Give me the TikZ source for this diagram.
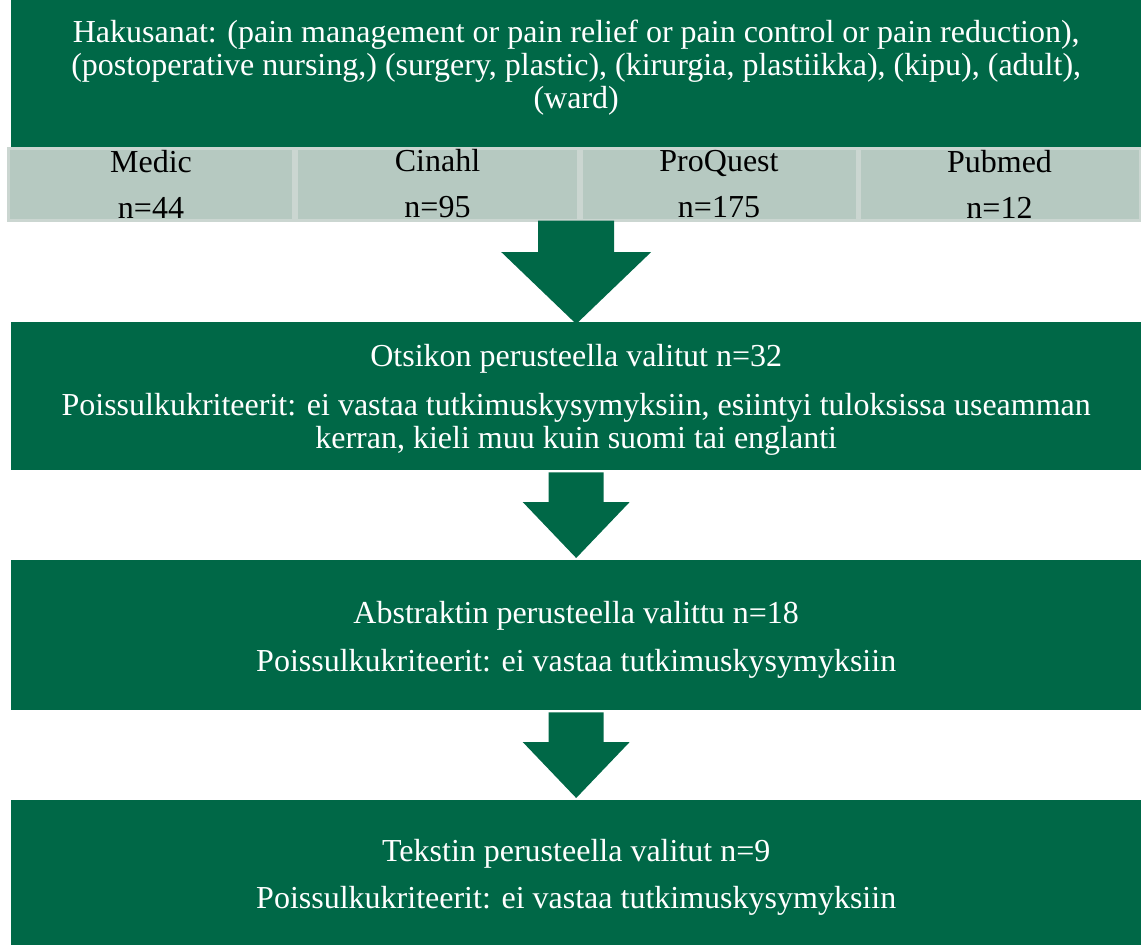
\documentclass[tikz,border=0pt]{standalone}
\usepackage{fontspec}
\setmainfont{Liberation Serif}
\usetikzlibrary{calc}
\definecolor{dkgreen}{RGB}{0,104,71}
\definecolor{cellfill}{RGB}{182,201,193}
\definecolor{celledge}{RGB}{203,214,209}
\newcommand{\flowarrow}[5]{%
  \fill[arrowfill] ($(#1)+(-#3,0)$) -- ($(#2)+(-#3,-#5)$) -- ($(#2)+(-#4,-#5)$) -- (#2)
    -- ($(#2)+(#4,-#5)$) -- ($(#2)+(#3,-#5)$) -- ($(#1)+(#3,0)$) -- cycle;}
\begin{document}
\begin{tikzpicture}[x=1pt,y=-1pt,
  box/.style={fill=dkgreen, inner sep=0pt, minimum width=1130, anchor=north west},
  boxtext/.style={text=white, inner sep=0pt, align=center,
    font=\fontsize{32}{33}\selectfont},
  cell/.style={fill=cellfill, draw=celledge, line width=3pt, text=black, align=center,
    inner sep=0pt, minimum height=72, font=\fontsize{32}{46}\selectfont},
  arrowfill/.style={fill=dkgreen}]
\useasboundingbox (0,0) rectangle (1141,945);
% boxes
\node[box, minimum height=166] (top) at (11,-18) {};
\node[box, minimum height=148] (b2) at (11,322) {};
\node[box, minimum height=150] (b3) at (11,560) {};
\node[box, minimum height=150] (b4) at (11,800) {};
% texts
\node[boxtext] (t1) at ($(top.center)+(0,2)$)
  {Hakusanat: (pain management or pain relief or pain control or pain reduction),\\
   (postoperative nursing,) (surgery, plastic), (kirurgia, plastiikka), (kipu), (adult),\\
   (ward)};
\node[boxtext] (t2) at ($(b2.center)+(0,4)$)
  {Otsikon perusteella valitut n=32\\[16pt]
   Poissulkukriteerit: ei vastaa tutkimuskysymyksiin, esiintyi tuloksissa useamman\\
   kerran, kieli muu kuin suomi tai englanti};
\node[boxtext] (t3) at ($(b3.center)+(0,5)$)
  {Abstraktin perusteella valittu n=18\\[15pt]
   Poissulkukriteerit: ei vastaa tutkimuskysymyksiin};
\node[boxtext] (t4) at ($(b4.center)+(0,2)$)
  {Tekstin perusteella valitut n=9\\[14pt]
   Poissulkukriteerit: ei vastaa tutkimuskysymyksiin};
% database cells
\node[cell, minimum width=285] (medic) at (151,184) {Medic\vphantom{dQ}\\n=44};
\node[cell, minimum width=282] (cinahl) at (437.5,184) {Cinahl\vphantom{dQ}\\n=95};
\node[cell, minimum width=276] (proquest) at (719,184) {ProQuest\vphantom{dQ}\\n=175};
\node[cell, minimum width=281] (pubmed) at (999.5,184) {Pubmed\vphantom{dQ}\\n=12};
% block arrows
\coordinate (a1e) at ($(b2.north)+(0,2)$);
\coordinate (a1s) at ($(a1e |- cinahl.south)+(0,-1)$);
\coordinate (a2s) at ($(b2.south)+(0,2)$);
\coordinate (a2e) at ($(b3.north)+(0,-2)$);
\coordinate (a3s) at ($(b3.south)+(0,2)$);
\coordinate (a3e) at ($(b4.north)+(0,-2)$);
\flowarrow{a1s}{a1e}{38}{75}{72}
\flowarrow{a2s}{a2e}{27.5}{53.5}{56}
\flowarrow{a3s}{a3e}{27.5}{53.5}{56}
\end{tikzpicture}
\end{document}
